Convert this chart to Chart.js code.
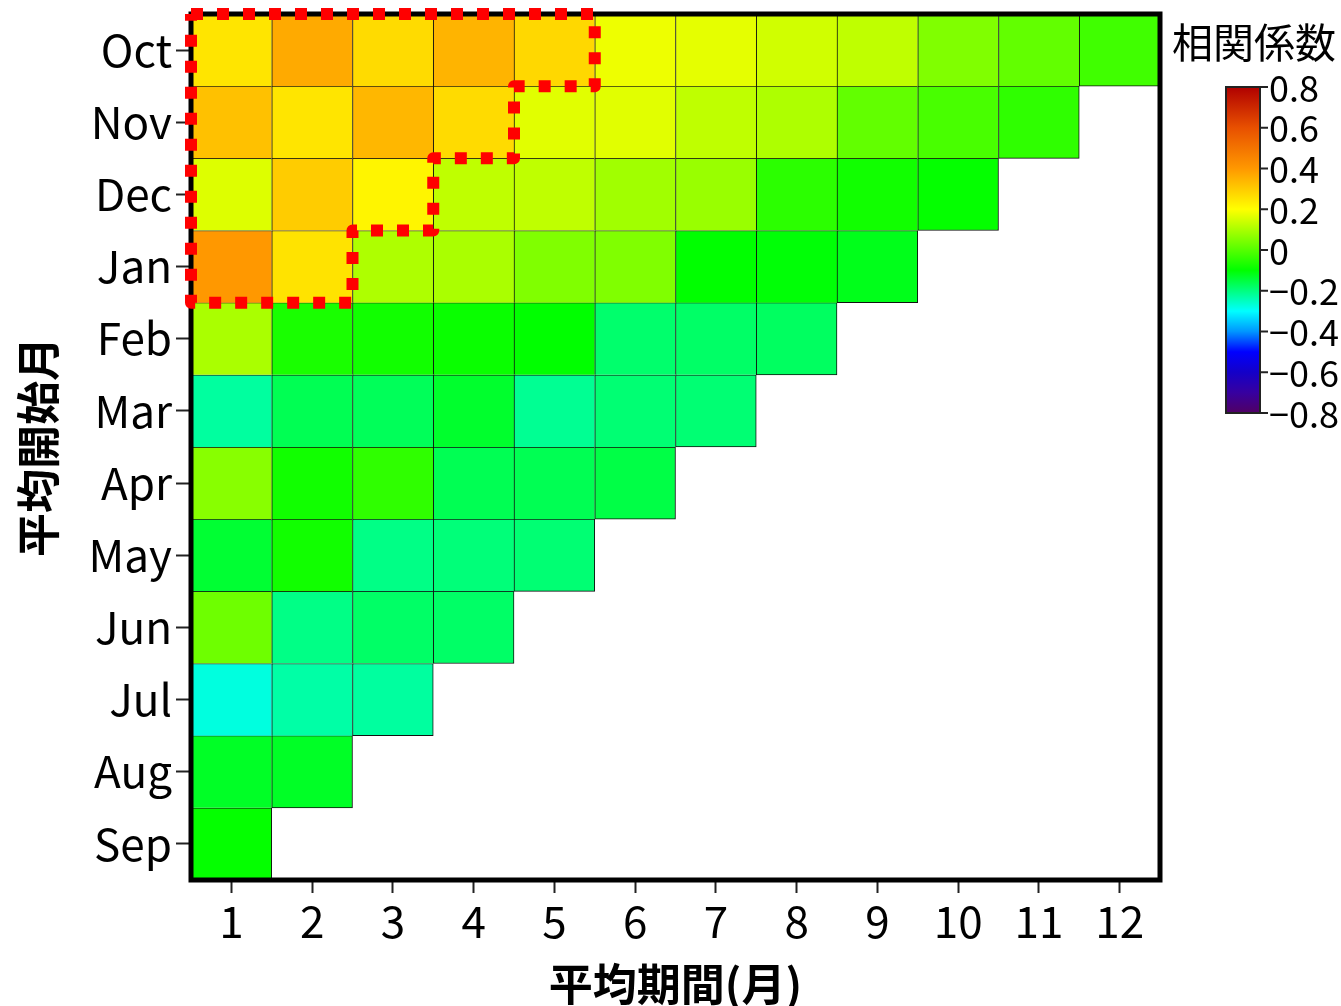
<!DOCTYPE html>
<html>
<head>
<meta charset="utf-8">
<title>相関係数</title>
<script src="https://cdn.jsdelivr.net/npm/chart.js@4.4.1/dist/chart.umd.min.js"></script>
<style>
  html, body { margin: 0; padding: 0; background: #fff; }
  #wrap { width: 1341px; height: 1006px; position: relative; }
</style>
</head>
<body>
<div id="wrap"><canvas id="heatmap"></canvas></div>
<script>
/* ===============================
   DATA
================================= */
const startMonths = ['Oct', 'Nov', 'Dec', 'Jan', 'Feb', 'Mar', 'Apr', 'May', 'Jun', 'Jul', 'Aug', 'Sep'];
const periods = [1, 2, 3, 4, 5, 6, 7, 8, 9, 10, 11, 12];

// correlation per start month, index = averaging period - 1
const corrOct = [0.25, 0.365, 0.27, 0.345, 0.275, 0.18, 0.17, 0.145, 0.125, 0.05, 0.015, -0.025];
const corrNov = [0.32, 0.25, 0.34, 0.27, 0.165, 0.165, 0.125, 0.105, 0.015, -0.015, -0.045];
const corrDec = [0.16, 0.30, 0.22, 0.125, 0.125, 0.09, 0.08, -0.05, -0.08, -0.095];
const corrJan = [0.40, 0.255, 0.105, 0.10, 0.05, 0.05, -0.10, -0.105, -0.12];
const corrFeb = [0.10, -0.07, -0.08, -0.09, -0.10, -0.185, -0.18, -0.175];
const corrMar = [-0.225, -0.165, -0.17, -0.135, -0.215, -0.19, -0.19];
const corrApr = [0.06, -0.08, -0.045, -0.165, -0.165, -0.155];
const corrMay = [-0.14, -0.08, -0.205, -0.195, -0.19];
const corrJun = [0.03, -0.205, -0.18, -0.18];
const corrJul = [-0.275, -0.23, -0.225];
const corrAug = [-0.13, -0.13];
const corrSep = [-0.095];

const corrRows = [corrOct, corrNov, corrDec, corrJan, corrFeb, corrMar,
                  corrApr, corrMay, corrJun, corrJul, corrAug, corrSep];

// number of highlighted periods for Oct, Nov, Dec, Jan
const highlightCols = [5, 4, 3, 2];

const colorbarTicks = [0.8, 0.6, 0.4, 0.2, 0, -0.2, -0.4, -0.6, -0.8];

/* ===============================
   COLOR MAP
================================= */
const cmapValues = [-0.8, -0.7, -0.6, -0.5, -0.4, -0.3, -0.1, 0.2, 0.4, 0.6, 0.8];
const cmapColors = [
    [80, 0, 100], [55, 0, 160], [20, 0, 200], [0, 0, 255], [0, 150, 255],
    [0, 255, 255], [0, 255, 0], [255, 255, 0], [255, 152, 0], [232, 80, 0], [176, 0, 0]
];

function colorFor(v) {
    if (v <= cmapValues[0]) return `rgb(${cmapColors[0].join(',')})`;
    for (let i = 1; i < cmapValues.length; i++) {
        if (v <= cmapValues[i]) {
            const t = (v - cmapValues[i - 1]) / (cmapValues[i] - cmapValues[i - 1]);
            const a = cmapColors[i - 1], b = cmapColors[i];
            const c = a.map((x, k) => Math.round(x + (b[k] - x) * t));
            return `rgb(${c.join(',')})`;
        }
    }
    return `rgb(${cmapColors[cmapColors.length - 1].join(',')})`;
}

/* ===============================
   DATASETS
================================= */
const FONT = '"Noto Sans CJK JP", "Noto Sans", sans-serif';

const cellDatasets = corrRows.map((row, i) => ({
    type: 'bar',
    label: startMonths[i],
    order: 1,
    data: row.map((v, j) => ({ x: periods[j], y: [i - 0.5, i + 0.5] })),
    backgroundColor: row.map(v => colorFor(v)),
    borderColor: '#111',
    borderSkipped: false,
    borderWidth: ctx => {
        const last = ctx.dataIndex === row.length - 1;
        return { top: 1, left: 1, right: last ? 1 : 0, bottom: last ? 1 : 0 };
    }
}));

// staircase outline round the highlighted block
const outline = [{ x: 0.5, y: -0.5 }];
highlightCols.forEach((n, i) => {
    outline.push({ x: n + 0.5, y: i - 0.5 });
    outline.push({ x: n + 0.5, y: i + 0.5 });
});
outline.push({ x: 0.5, y: highlightCols.length - 0.5 });
outline.push({ x: 0.5, y: -0.5 });

const outlineDataset = {
    type: 'line',
    label: 'highlight',
    order: 0,
    data: outline,
    borderColor: '#ff0000',
    borderWidth: 12,
    borderDash: [12, 14],
    borderCapStyle: 'butt',
    borderJoinStyle: 'round',
    pointRadius: 0,
    tension: 0,
    fill: false,
    clip: false
};

/* ===============================
   FRAME + COLORBAR PLUGIN
================================= */
const framePlugin = {
    id: 'frame',
    beforeDatasetDraw(chart, args) {
        if (args.meta.type !== 'line') return;
        const { ctx, chartArea: a } = chart;
        ctx.save();
        ctx.lineWidth = 5;
        ctx.strokeStyle = '#000';
        ctx.strokeRect(a.left, a.top, a.right - a.left, a.bottom - a.top);
        ctx.restore();
    },
    afterDraw(chart) {
        const ctx = chart.ctx;
        const left = 1226, right = 1260, top = 87, bottom = 413;
        const vMax = colorbarTicks[0], vMin = colorbarTicks[colorbarTicks.length - 1];
        const yOf = v => top + (vMax - v) / (vMax - vMin) * (bottom - top);

        ctx.save();
        const grad = ctx.createLinearGradient(0, top, 0, bottom);
        cmapValues.forEach(v => grad.addColorStop((vMax - v) / (vMax - vMin), colorFor(v)));
        ctx.fillStyle = grad;
        ctx.fillRect(left, top, right - left, bottom - top);
        ctx.lineWidth = 2;
        ctx.strokeStyle = '#222';
        ctx.strokeRect(left, top, right - left, bottom - top);

        ctx.fillStyle = '#000';
        ctx.font = `36px ${FONT}`;
        ctx.textAlign = 'left';
        ctx.textBaseline = 'middle';
        colorbarTicks.forEach(v => {
            const y = yOf(v);
            ctx.beginPath();
            ctx.moveTo(right, y);
            ctx.lineTo(right + 8, y);
            ctx.stroke();
            const txt = v === 0 ? '0' : (v < 0 ? '\u2212' : '') + Math.abs(v).toFixed(1);
            ctx.fillText(txt, right + 9, y + 1);
        });

        ctx.font = `41px ${FONT}`;
        ctx.textAlign = 'center';
        ctx.fillText('相関係数', 1254, 42);
        ctx.restore();
    }
};

/* ===============================
   CHART
================================= */
new Chart(document.getElementById('heatmap'), {
    type: 'bar',
    data: { datasets: [...cellDatasets, outlineDataset] },
    options: {
        responsive: true,
        maintainAspectRatio: false,
        animation: false,
        layout: { padding: { top: 14, right: 181, left: 0, bottom: 0 } },
        datasets: {
            bar: { grouped: false, barPercentage: 1, categoryPercentage: 1 }
        },
        plugins: {
            legend: { display: false },
            tooltip: { enabled: false }
        },
        scales: {
            x: {
                type: 'linear',
                min: 0.5,
                max: 12.5,
                offset: false,
                afterBuildTicks: s => { s.ticks = periods.map(p => ({ value: p })); },
                afterFit: s => { s.height = 126; s.paddingLeft = 0; s.paddingRight = 0; },
                ticks: {
                    color: '#000',
                    font: { family: FONT, size: 44 },
                    padding: 2,
                    maxRotation: 0,
                    callback: v => String(v)
                },
                grid: { offset: false, drawOnChartArea: false, tickLength: 13, tickWidth: 2, tickColor: '#222' },
                border: { display: false },
                title: {
                    display: true,
                    text: '平均期間(月)',
                    color: '#000',
                    font: { family: FONT, size: 44, weight: 'bold', lineHeight: 1 },
                    padding: { top: 0, bottom: 0 }
                }
            },
            y: {
                type: 'linear',
                reverse: true,
                min: -0.5,
                max: 11.5,
                afterBuildTicks: s => { s.ticks = startMonths.map((m, i) => ({ value: i })); },
                afterFit: s => { s.width = 191; s.paddingTop = 0; s.paddingBottom = 0; },
                ticks: {
                    color: '#000',
                    font: { family: FONT, size: 44 },
                    padding: 4,
                    callback: v => startMonths[v]
                },
                grid: { offset: false, drawOnChartArea: false, tickLength: 15, tickWidth: 2, tickColor: '#222' },
                border: { display: false },
                title: {
                    display: true,
                    text: '平均開始月',
                    color: '#000',
                    font: { family: FONT, size: 44, weight: 'bold', lineHeight: 1 },
                    padding: { top: 16, bottom: 0 }
                }
            }
        }
    },
    plugins: [framePlugin]
});
</script>
</body>
</html>
